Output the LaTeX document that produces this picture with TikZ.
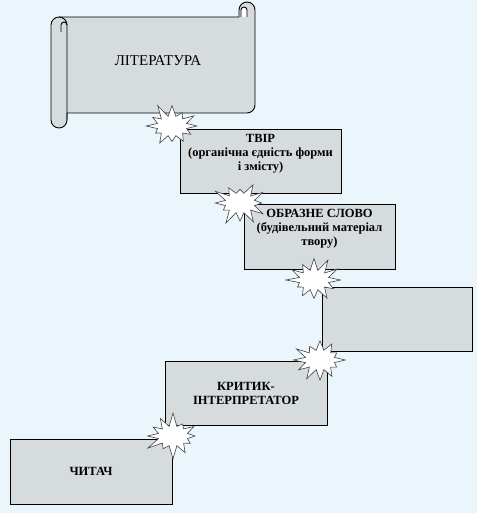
\documentclass[tikz,border=0pt]{standalone}
\usepackage{fontspec}
\setmainfont{Liberation Serif}
\usetikzlibrary{shapes.symbols, positioning}
\definecolor{bgblue}{HTML}{EAF6FB}
\definecolor{boxgrey}{HTML}{D6DCDE}

\begin{document}
\begin{tikzpicture}[
  x=1pt, y=-1pt,
  card/.style={draw, line width=0.9pt, fill=boxgrey, inner sep=0pt},
  lbl/.style={align=center, font=\bfseries\fontsize{12.5}{14}\selectfont, inner sep=0pt},
  burst/.style={starburst, draw=black!75, line width=0.6pt, fill=white,
                starburst points=12, starburst point height=14pt,
                minimum width=58pt, minimum height=48pt, inner sep=0pt},
  node distance=6pt
]
% background and page size
\fill[bgblue] (0,0) rectangle (477,513);
\useasboundingbox (0,0) rectangle (477,513);

% scroll
\filldraw[fill=boxgrey, line width=0.9pt]
  (59,17) -- (239,17) -- (239,10)
  arc[start angle=180, end angle=360, radius=8] -- (255,105)
  arc[start angle=0, end angle=90, radius=8] -- (67,113) -- (67,120)
  arc[start angle=0, end angle=180, radius=8] -- (51,25)
  arc[start angle=180, end angle=270, radius=8] -- cycle;
\draw[line width=0.9pt] (59,17) arc[start angle=270, end angle=360, radius=8] -- (67,120);
\draw[line width=0.9pt] (61,32) -- (61,25) arc[start angle=180, end angle=360, radius=3];
\filldraw[fill=white, line width=0.9pt] (241,17) -- (241,10)
  arc[start angle=180, end angle=360, radius=3] -- (247,17);
\node[font=\fontsize{15}{17}\selectfont] (lit) at (158,61) {ЛІТЕРАТУРА};

% boxes
\node[card, minimum width=161, minimum height=64] (tvir)   at (260.5,161) {};
\node[card, minimum width=151, minimum height=65] (obraz)  at (319.5,236.5) {};
\node[card, minimum width=150, minimum height=64] (empty)  at (397,319) {};
\node[card, minimum width=162, minimum height=64] (krytyk) at (246,393) {};
\node[card, minimum width=162, minimum height=65] (chytach) at (91,471.5) {};

\node[lbl, below=6pt of tvir.north] (tvirlbl)
  {ТВІР\\(органічна єдність форми\\і змісту)};
\node[lbl, below=5pt of obraz.north] (obrazlbl)
  {ОБРАЗНЕ СЛОВО\\(будівельний матеріал\\твору)};
\node[lbl] (krytyklbl) at (krytyk) {КРИТИК-\\ІНТЕРПРЕТАТОР};
\node[lbl] (chytachlbl) at (chytach) {ЧИТАЧ};

% bursts
\node[burst, random starburst=11] (b1) at (172,126) {};
\node[burst, random starburst=23] (b2) at (240,203) {};
\node[burst, random starburst=37] (b3) at (314,280) {};
\node[burst, random starburst=41] (b4) at (320,360) {};
\node[burst, random starburst=53] (b5) at (173,436) {};
\end{tikzpicture}
\end{document}
